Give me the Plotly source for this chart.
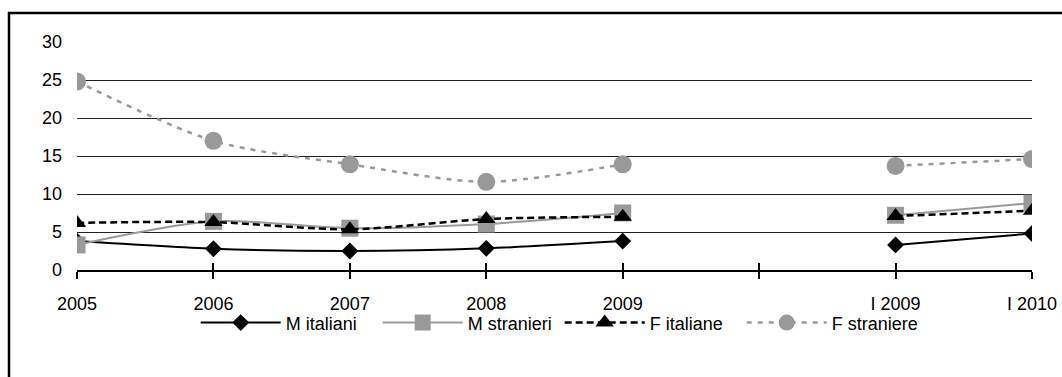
import plotly.graph_objects as go

# Category labels along the x axis (one empty slot separates the yearly and "I" series)
categories = ["2005", "2006", "2007", "2008", "2009", "", "I 2009", "I 2010"]

# Series values (None = no observation for the empty slot)
m_italiani = [3.8, 2.8, 2.5, 2.85, 3.8, None, 3.3, 4.8]
m_stranieri = [3.3, 6.4, 5.5, 6.05, 7.5, None, 7.2, 8.8]
f_italiane = [6.2, 6.3, 5.35, 6.7, 7.0, None, 7.1, 7.8]
f_straniere = [24.8, 17.0, 13.9, 11.6, 13.9, None, 13.7, 14.6]

y_ticks = [0, 5, 10, 15, 20, 25, 30]

GRAY = "#999999"
FONT = "Liberation Sans, Arial, sans-serif"

x_idx = list(range(len(categories)))

fig = go.Figure()

series = [
    ("M italiani", m_italiani, "black", "solid", "diamond", 13, 2),
    ("M stranieri", m_stranieri, GRAY, "solid", "square", 17, 2),
    ("F italiane", f_italiane, "black", "7px,4px", "triangle-up", 16, 2.5),
    ("F straniere", f_straniere, GRAY, "5px,6px", "circle", 18, 2.5),
]

for name, vals, color, dash, symbol, msize, lw in series:
    fig.add_trace(go.Scatter(
        x=x_idx, y=vals, name=name, mode="lines+markers",
        line=dict(color=color, width=lw, dash=dash, shape="spline", smoothing=0.8),
        marker=dict(symbol=symbol, size=msize, color=color, line=dict(width=0)),
        connectgaps=False,
    ))

# invisible helper trace so the second (tick-only) x axis is rendered
fig.add_trace(go.Scatter(x=[0], y=[None], xaxis="x2", showlegend=False,
                         hoverinfo="skip", mode="markers"))

fig.update_layout(
    width=1062, height=377,
    margin=dict(l=77, r=30, t=42, b=107),
    paper_bgcolor="white", plot_bgcolor="white",
    font=dict(family=FONT, size=18, color="black"),
    showlegend=True,
    legend=dict(orientation="h", x=0.1243, xanchor="left", y=-0.232, yanchor="middle",
                font=dict(family=FONT, size=18, color="black"),
                itemwidth=80, entrywidth=87, tracegroupgap=0,
                bgcolor="rgba(0,0,0,0)"),
    xaxis=dict(
        range=[0, 7], tickmode="array", tickvals=x_idx, ticktext=categories,
        showgrid=False, zeroline=False, showline=True, linecolor="black", linewidth=2,
        ticks="outside", ticklen=7, tickwidth=2, tickcolor="black",
        ticklabelstandoff=9, automargin=False,
    ),
    xaxis2=dict(
        range=[0, 7], overlaying="x", anchor="y", side="bottom",
        tickmode="array", tickvals=x_idx, showticklabels=False,
        showgrid=False, zeroline=False, showline=False,
        ticks="inside", ticklen=7, tickwidth=2, tickcolor="black",
    ),
    yaxis=dict(
        range=[0, 30], tickmode="array", tickvals=y_ticks,
        showgrid=True, gridcolor="#222222", gridwidth=1,
        zeroline=False, showline=False, ticks="",
        ticklabelstandoff=14, automargin=False,
    ),
    shapes=[dict(type="rect", xref="paper", yref="paper",
                 x0=-0.0712, x1=1.2, y0=-0.7, y1=1.127,
                 line=dict(color="black", width=2.5), fillcolor="rgba(0,0,0,0)",
                 layer="below")],
)

fig.write_html("out.html")
